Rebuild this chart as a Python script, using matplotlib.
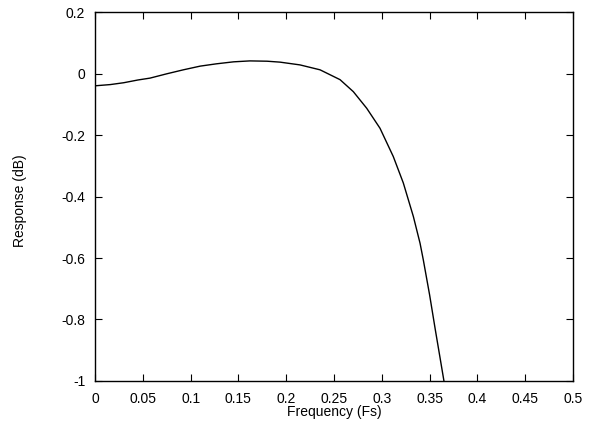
import matplotlib
matplotlib.use("Agg")
import matplotlib.pyplot as plt

plt.rcParams['font.family'] = ['Liberation Sans', 'DejaVu Sans']

# frequency (Fs) and response (dB)
freq = [0.0, 0.016, 0.03, 0.045, 0.0575, 0.075, 0.0924, 0.11, 0.127, 0.145,
        0.162, 0.18, 0.1935, 0.2144, 0.2354, 0.2563, 0.2702, 0.2842, 0.2981,
        0.312, 0.3225, 0.333, 0.340, 0.3434, 0.350, 0.356, 0.361, 0.365]
resp = [-0.040, -0.036, -0.030, -0.021, -0.015, -0.001, 0.012, 0.024, 0.0315,
        0.038, 0.041, 0.040, 0.037, 0.028, 0.012, -0.020, -0.059, -0.113,
        -0.178, -0.270, -0.356, -0.465, -0.552, -0.606, -0.720, -0.834,
        -0.926, -1.0]

xticks = [0, 0.05, 0.1, 0.15, 0.2, 0.25, 0.3, 0.35, 0.4, 0.45, 0.5]
xtick_labels = ['0', '0.05', '0.1', '0.15', '0.2', '0.25', '0.3', '0.35', '0.4', '0.45', '0.5']
yticks = [-1, -0.8, -0.6, -0.4, -0.2, 0, 0.2]
ytick_labels = ['-1', '-0.8', '-0.6', '-0.4', '-0.2', '0', '0.2']

fig = plt.figure(figsize=(5.93, 4.23), dpi=100)
ax = fig.add_axes([0.1602, 0.0993, 0.8061, 0.8723])
ax.plot(freq, resp, color='black', linewidth=1.0)
ax.set_xlim(0, 0.5)
ax.set_ylim(-1, 0.2)
ax.set_xticks(xticks)
ax.set_xticklabels(xtick_labels)
ax.set_yticks(yticks)
ax.set_yticklabels(ytick_labels)
ax.tick_params(direction='in', top=True, right=True, length=5, width=0.8,
               labelsize=10)
ax.tick_params(axis='x', pad=8)
ax.tick_params(axis='y', pad=7)
for s in ax.spines.values():
    s.set_linewidth(1.0)
ax.set_xlabel('Frequency (Fs)', fontsize=10, labelpad=-1)
# gnuplot-style y label, sitting close to the figure edge
fig.text(20 / 593, 1 - 201 / 423, 'Response (dB)', rotation=90,
         ha='center', va='center', fontsize=10)

fig.savefig('out.png', dpi=100)
